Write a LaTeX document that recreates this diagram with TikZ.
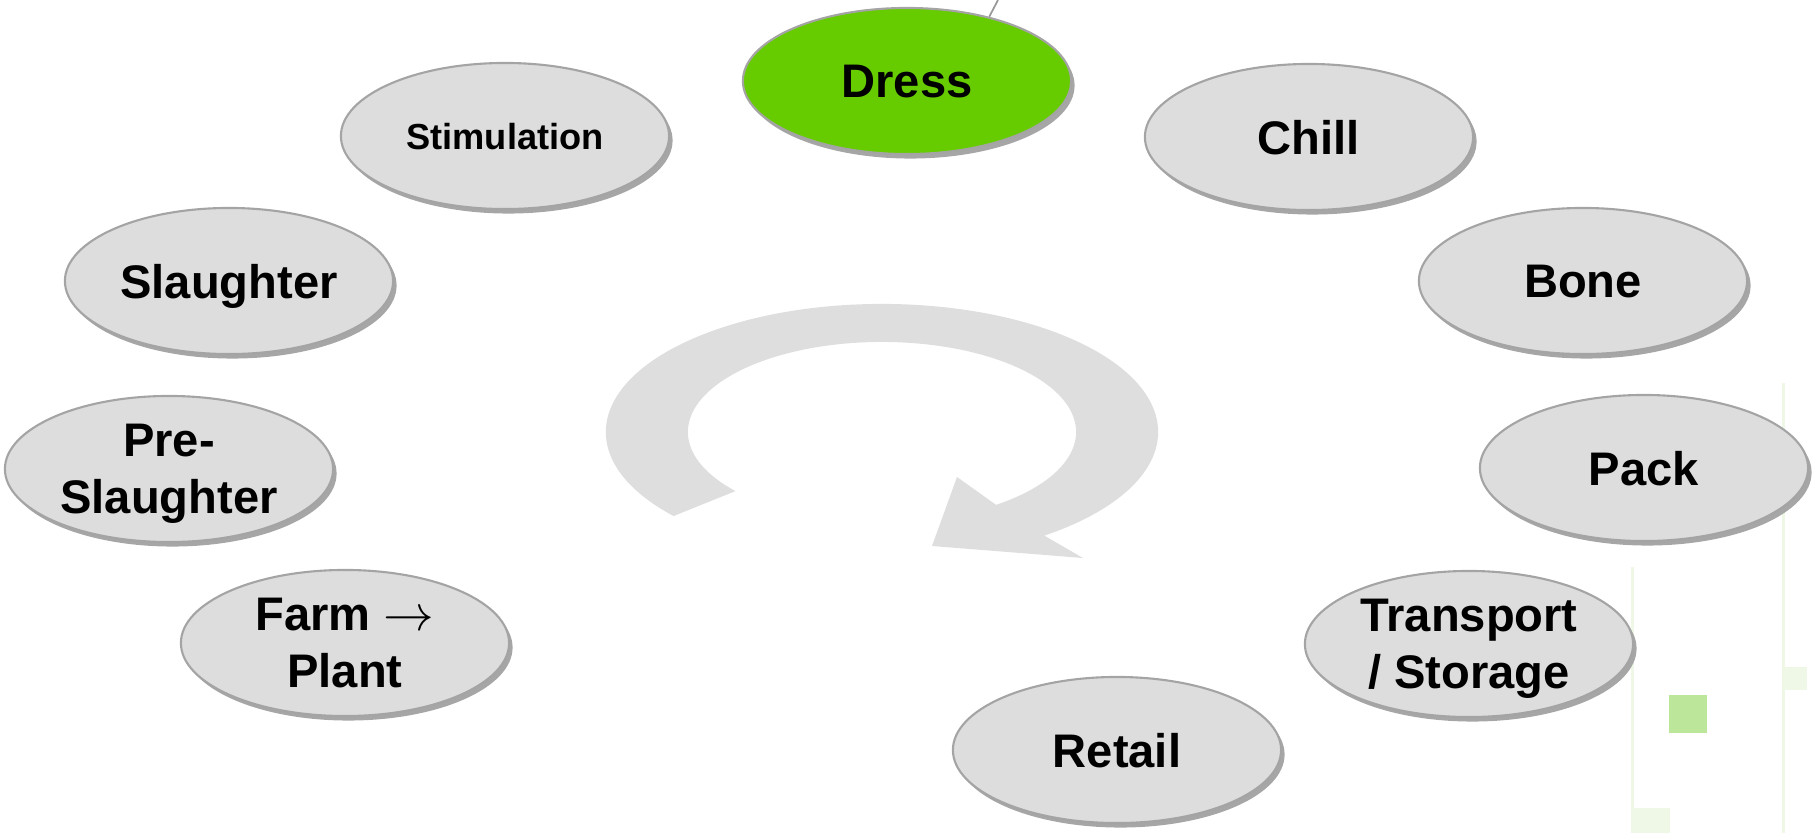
\documentclass[tikz,border=0pt]{standalone}
\usepackage{fontspec}
\setmainfont{Liberation Sans}
\usepackage{tikz}
\usetikzlibrary{shapes.geometric,shadows,calc}

\definecolor{stagefill}{HTML}{DDDDDD}
\definecolor{stagerim}{HTML}{A4A4A4}
\definecolor{dressgreen}{HTML}{66CC00}
\definecolor{loopgray}{HTML}{DEDEDE}
\definecolor{tilegreen}{HTML}{BCE699}
\definecolor{palegreen}{HTML}{EFF8E7}

\begin{document}
\begin{tikzpicture}[
  x=0.01cm, y=-0.01cm,
  stage/.style={ellipse, draw=stagerim, fill=stagefill, line width=0.6pt,
    minimum width=3.28cm, minimum height=1.46cm, inner sep=0pt, align=center,
    text depth=-0.28em,
    font=\bfseries\fontsize{13.4}{16.2}\selectfont,
    drop shadow={shadow xshift=0.35mm, shadow yshift=-0.45mm, fill=black!35, opacity=1}},
  small/.style={font=\bfseries\fontsize{10.3}{12}\selectfont}
]
\useasboundingbox (0,0) rectangle (1820,833);

% faint tiles on the right edge
\fill[palegreen] (1631,567) rectangle (1634,833);
\fill[palegreen] (1782,383) rectangle (1785,833);
\fill[palegreen] (1784,667) rectangle (1807,690);
\fill[palegreen] (1632,808) rectangle (1670,833);
\fill[tilegreen] (1669,695) rectangle (1707,733);

% the loop arrow
\coordinate (c) at (882,432);
\fill[loopgray] ($(c)+(221:2.76cm and 1.28cm)$)
  arc[start angle=221, end angle=-54, x radius=2.76cm, y radius=1.28cm]
  -- (1083,558) -- (932,546) -- (957,477)
  -- ($(c)+(-54:1.94cm and 0.90cm)$)
  arc[start angle=-54, end angle=221, x radius=1.94cm, y radius=0.90cm]
  -- cycle;

% stages
\node[stage, small] (stim) at (505,136) {Stimulation};
\node[stage, fill=dressgreen] (dress) at (907,81) {Dress};
\node[stage] (chill) at (1309,137) {Chill};
\node[stage] (slaughter) at (229,281) {Slaughter};
\node[stage] (bone) at (1583,281) {Bone};
\node[stage] (pre) at (169,469) {Pre-\\Slaughter};
\node[stage] (pack) at (1644,468) {Pack};
\node[stage] (farm) at (345,643) {Farm $\rightarrow$\\Plant};
\node[stage] (transport) at (1469,644) {Transport\\/ Storage};
\node[stage] (retail) at (1117,750) {Retail};

\coordinate (up) at (998,0);
\draw[gray!80, line width=0.5pt] (dress.38) -- (up);
\end{tikzpicture}
\end{document}
